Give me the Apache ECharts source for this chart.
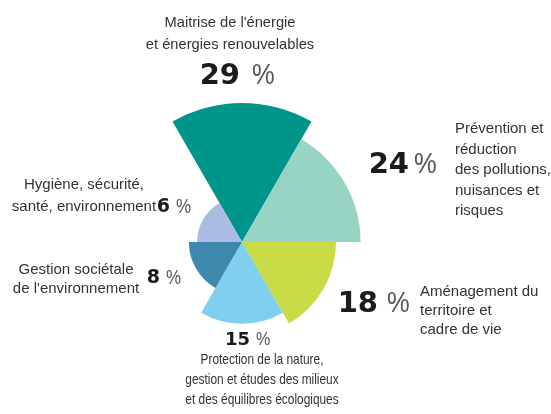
<!DOCTYPE html>
<html>
<head>
<meta charset="utf-8">
<script src="https://cdn.jsdelivr.net/npm/echarts@6/dist/echarts.min.js"></script>
<style>
  html, body { margin: 0; background: #fff; }
  #main { width: 551px; height: 414px; }
</style>
</head>
<body>
<div id="main"></div>
<script>
// thèmes, parts (%) et couleurs, dans l'ordre horaire depuis le haut
var themes = [
  "Maitrise de l'énergie\net énergies renouvelables",
  "Prévention et\nréduction\ndes pollutions,\nnuisances et\nrisques",
  "Aménagement du\nterritoire et\ncadre de vie",
  "Protection de la nature,\ngestion et études des milieux\net des équilibres écologiques",
  "Gestion sociétale\nde l'environnement",
  "Hygiène, sécurité,\nsanté, environnement"
];
var shares = [29, 24, 18, 15, 8, 6];
var colors = ["#00958a", "#98d4c4", "#c9dc46", "#80cfee", "#3e88ad", "#a9bde2"];

var chart = echarts.init(document.getElementById("main"), null, { renderer: "canvas" });

var descFont = '"Liberation Sans", Arial, sans-serif';
var numFont = '"DejaVu Sans", sans-serif';

// texte : [x, y haut, alignement, interligne, taille, largeur relative]
var descPos = [
  [230, 12, "center", 22, 15, 0.98],
  [455, 119, "left", 20.5, 15, 1],
  [420, 282, "left", 19, 15, 1],
  [262, 350, "center", 20, 14.5, 0.82],
  [76, 260, "center", 19, 15, 1],
  [84, 174, "center", 22, 15, 1]
];
// nombre : [bord droit, y centre, taille, début du %]
var numPos = [
  [240, 76, 29, 252],
  [409, 165, 29, 414],
  [378, 304, 29, 387],
  [250, 340, 18, 256],
  [160, 278, 19, 166],
  [170, 207, 19, 176]
];

var graphics = [];
themes.forEach(function (t, i) {
  var d = descPos[i];
  graphics.push({
    type: "text",
    x: d[0], y: d[1],
    scaleX: d[5],
    style: {
      text: t, x: 0, y: 0,
      font: d[4] + "px " + descFont,
      fill: "#333",
      align: d[2],
      verticalAlign: "top",
      lineHeight: d[3]
    }
  });
  var n = numPos[i];
  graphics.push({
    type: "text",
    x: n[0], y: n[1],
    style: {
      text: String(shares[i]),
      font: "bold " + n[2] + "px " + numFont,
      fill: "#1b1b1b",
      align: "right",
      verticalAlign: "middle"
    }
  });
  graphics.push({
    type: "text",
    x: n[3], y: n[1],
    scaleX: 0.85,
    style: {
      text: "%",
      font: Math.round(n[2] * 1.05) + "px " + descFont,
      fill: "#555",
      align: "left",
      verticalAlign: "middle"
    }
  });
});

var option = {
  animation: false,
  polar: { center: [242, 242], radius: [0, 139] },
  angleAxis: {
    type: "category",
    data: themes,
    startAngle: 120,
    clockwise: true,
    axisLine: { show: false },
    axisTick: { show: false },
    axisLabel: { show: false },
    splitLine: { show: false }
  },
  radiusAxis: {
    type: "value",
    min: -5,
    max: 29,
    startValue: -5,
    axisLine: { show: false },
    axisTick: { show: false },
    axisLabel: { show: false },
    splitLine: { show: false }
  },
  series: [{
    type: "bar",
    coordinateSystem: "polar",
    barCategoryGap: "0%",
    data: shares.map(function (v, i) {
      return { value: v, itemStyle: { color: colors[i] } };
    })
  }],
  graphic: graphics
};

chart.setOption(option);
</script>
</body>
</html>
